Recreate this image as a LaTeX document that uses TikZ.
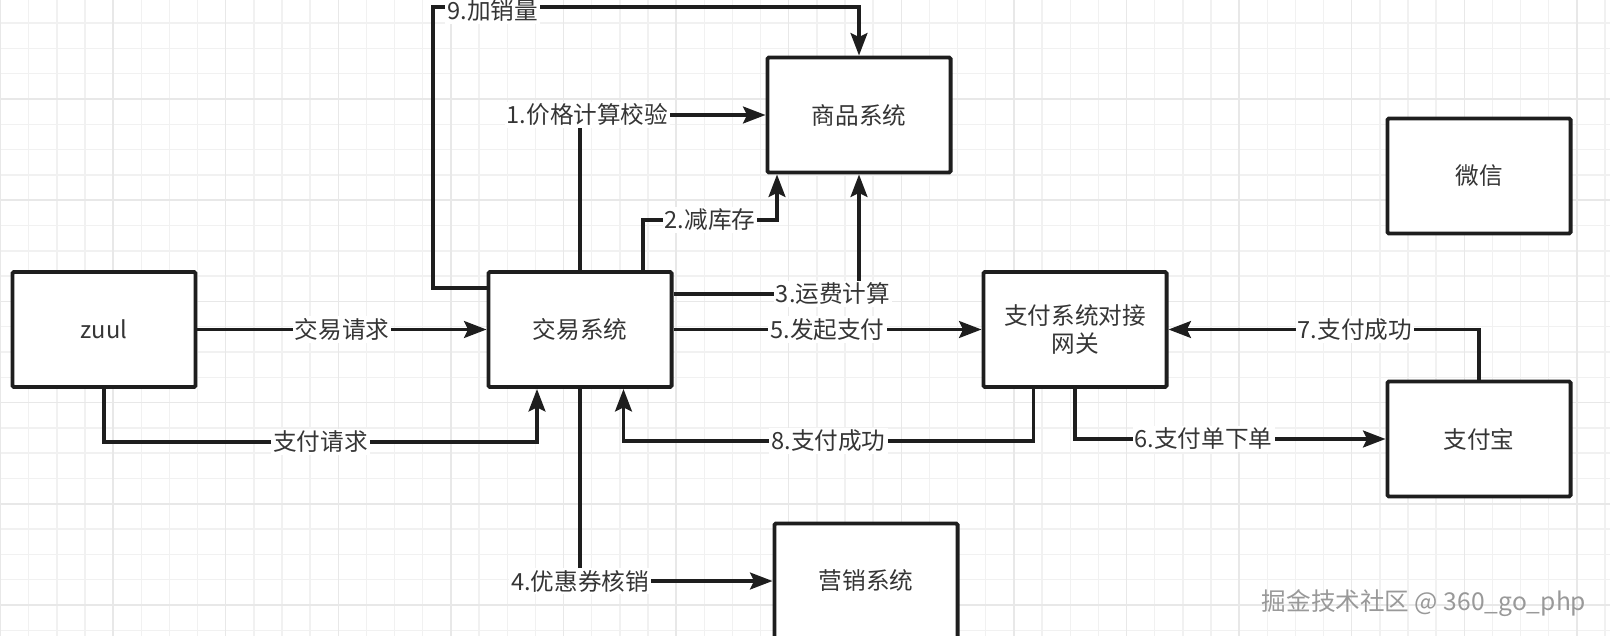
\documentclass[tikz,border=0pt]{standalone}
\usepackage{fontspec}
\setmainfont{Noto Sans CJK SC}
\usetikzlibrary{arrows.meta,calc}
\definecolor{gridminor}{HTML}{F1F1F1}
\definecolor{gridmajor}{HTML}{E8E8E8}
\definecolor{ink}{HTML}{1E1E1E}
\begin{document}
\begin{tikzpicture}[x=0.025cm, y=-0.025cm,
  every node/.style={font=\fontsize{16.8}{20}\selectfont, text=ink!90},
  box/.style={draw=ink, line width=2.8pt, fill=white, rounded corners=1pt,
    minimum width=4.575cm, minimum height=2.875cm, align=center},
  flow/.style={draw=ink, line width=2.5pt,
    -{Stealth[length=0.56cm, width=0.42cm, inset=0.1cm]}},
  lbl/.style={fill=white, inner sep=1.5pt}]
  \useasboundingbox (0,0) rectangle (1610,636);
  \clip (0,0) rectangle (1610,636);
  \fill[white] (0,0) rectangle (1610,636);
  % Background grid
  \foreach \k in {0,...,57} {
    \draw[gridminor, line width=1pt] ({0.5+28.15*\k},0) -- ++(0,636);
  }
  \foreach \k in {0,...,25} {
    \draw[gridminor, line width=1pt] (0,{-2.2+25.3*\k}) -- ++(1610,0);
  }
  \foreach \k in {0,4,...,56} {
    \draw[gridmajor, line width=1pt] ({0.5+28.15*\k},0) -- ++(0,636);
  }
  \foreach \k in {0,4,...,24} {
    \draw[gridmajor, line width=1pt] (0,{-2.2+25.3*\k}) -- ++(1610,0);
  }
  % Systems
  \node[box] (zuul) at (104,329.5) {zuul};
  \node[box] (trade) at (580,329.5) {交易系统};
  \node[box] (goods) at (859,115) {商品系统};
  \node[box] (wechat) at (1479,176) {微信};
  \node[box] (gateway) at (1075,329.5) {支付系统对接\\网关};
  \node[box] (alipay) at (1479,439) {支付宝};
  \node[box] (market) at (866,581) {营销系统};
  % Requests from zuul
  \draw[flow] (zuul) -- node[lbl] {交易请求} (trade);
  \draw[flow] (zuul.south) -- ++(0,53) -| node[lbl, pos=0.25] {支付请求} ($(trade.south)+(-43,0)$);
  % Trade -> goods
  \coordinate (sales) at (433,7);
  \draw[flow] ($(trade.west)+(0,-41.5)$) -| (sales) -- node[lbl, pos=0.14, yshift=-2.5pt] {9.加销量} (sales -| goods.north) -- (goods.north);
  \draw[flow] (trade.north) |- node[lbl, pos=0.52] {1.价格计算校验} (goods.west);
  \draw[flow] ($(trade.north)+(63,0)$) -- ++(0,-50) -| node[lbl, pos=0.25] {2.减库存} ($(goods.south)+(-82,0)$);
  \draw[flow] ($(trade.east)+(0,-35.5)$) -| node[lbl, pos=0.43] {3.运费计算} (goods.south);
  % Trade -> marketing
  \draw[flow] (trade.south) |- node[lbl, pos=0.5] {4.优惠券核销} (market.west);
  % Payment
  \draw[flow] (trade) -- node[lbl] {5.发起支付} (gateway);
  \draw[flow] (gateway.south) |- node[lbl, pos=0.707] {6.支付单下单} (alipay.west);
  \draw[flow] (alipay.north) |- node[lbl, pos=0.70] {7.支付成功} (gateway.east);
  \draw[flow] ($(gateway.south)+(-41.5,0)$) -- ++(0,52) -| node[lbl, pos=0.25] {8.支付成功} ($(trade.south)+(43.5,0)$);
  % Watermark
  \node[font=\fontsize{17.5}{21}\selectfont, text=gray!80] (mark) at (1424,603) {掘金技术社区 @ 360\_go\_php};
\end{tikzpicture}
\end{document}
